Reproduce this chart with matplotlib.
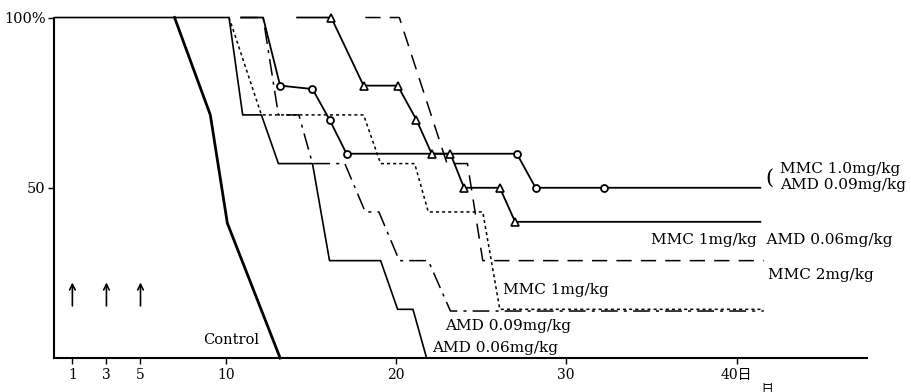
import matplotlib
matplotlib.use("Agg")
import matplotlib.pyplot as plt

plt.rcParams['font.family'] = ['DejaVu Serif', 'Noto Sans CJK JP']

# survival (%) against days after inoculation
control_day = [7.0, 9.1, 10.1, 13.2]
control_pct = [100, 71.4, 39.6, 0]

amd006_day = [0, 10.2, 11.0, 12.1, 13.1, 15.1, 16.1, 19.1, 20.1, 21.0, 21.8]
amd006_pct = [100, 100, 71.4, 71.4, 57.1, 57.1, 28.6, 28.6, 14.3, 14.3, 0]

mmc1_day = [10.2, 12.1, 18.1, 19.1, 21.1, 21.9, 25.1, 26.1, 41.6]
mmc1_pct = [100, 71.4, 71.4, 57.1, 57.1, 42.9, 42.9, 14.3, 14.3]

amd009_day = [10.9, 12.2, 13.1, 14.3, 15.1, 17.0, 18.2, 19.0, 20.2, 21.9, 23.2, 41.6]
amd009_pct = [100, 100, 71.4, 71.4, 57.1, 57.1, 42.9, 42.9, 28.6, 28.6, 13.8, 13.8]

mmc2_day = [18.2, 20.2, 23.0, 24.2, 25.1, 41.6]
mmc2_pct = [100, 100, 57.1, 57.1, 28.6, 28.6]

# MMC 1.0mg/kg + AMD 0.09mg/kg
combo_a_day = [10.9, 12.2, 13.2, 15.1, 16.1, 17.1, 27.1, 28.2, 32.2, 41.4]
combo_a_pct = [100, 100, 80, 79, 70, 60, 60, 50, 50, 50]

# MMC 1mg/kg + AMD 0.06mg/kg
combo_b_day = [14.2, 16.2, 18.1, 20.1, 21.2, 22.1, 23.2, 24.0, 26.1, 27.0, 41.4]
combo_b_pct = [100, 100, 80, 80, 70, 60, 60, 50, 50, 40, 40]

dose_days = [1, 3, 5]
x_ticks = [1, 3, 5, 10, 20, 30, 40]
x_labels = ['1', '3', '5', '10', '20', '30', '40日']

fig = plt.figure(figsize=(9.12, 3.92), dpi=100)
ax = fig.add_axes([0.0592, 0.0867, 0.8914, 0.8686])

lw = 1.1
ax.plot(mmc1_day, mmc1_pct, color='black', lw=lw, dashes=(2, 2), clip_on=False)
ax.plot(amd006_day, amd006_pct, color='black', lw=1.2, clip_on=False)
ax.plot(control_day, control_pct, color='black', lw=2.0, clip_on=False)
ax.plot(amd009_day, amd009_pct, color='black', lw=lw, dashes=(11, 4, 2, 4),
        clip_on=False)
ax.plot(mmc2_day, mmc2_pct, color='black', lw=lw, dashes=(10, 6), clip_on=False)
ax.plot(combo_a_day, combo_a_pct, color='black', lw=1.3, marker='o',
        markersize=5, markerfacecolor='white', markeredgewidth=1.3,
        markevery=list(range(2, 9)), clip_on=False)
ax.plot(combo_b_day, combo_b_pct, color='black', lw=1.3, marker='^',
        markersize=5.5, markerfacecolor='white', markeredgewidth=1.2,
        markevery=list(range(1, 10)), clip_on=False)

# dosing days
for d in dose_days:
    ax.annotate('', xy=(d, 23), xytext=(d, 14.5),
                arrowprops=dict(arrowstyle='->', color='black', lw=1.2))

fs = 11
ax.text(8.65, 5.3, 'Control', fontsize=10.5, va='center')
ax.text(22.1, 2.8, 'AMD 0.06mg/kg', fontsize=fs, va='center')
ax.text(22.9, 9.4, 'AMD 0.09mg/kg', fontsize=fs, va='center')
ax.text(26.3, 20.1, 'MMC 1mg/kg', fontsize=fs, va='center')
ax.text(41.85, 24.4, 'MMC 2mg/kg', fontsize=fs, va='center')
ax.text(35.0, 34.7, 'MMC 1mg/kg  AMD 0.06mg/kg', fontsize=fs, va='center')
ax.text(41.7, 52.8, '(', fontsize=15, va='center')
ax.text(42.55, 55.6, 'MMC 1.0mg/kg', fontsize=fs, va='center')
ax.text(42.55, 50.8, 'AMD 0.09mg/kg', fontsize=fs, va='center')
ax.text(41.6, -8.0, '日', fontsize=9, va='center', ha='center',
        rotation=180, clip_on=False)

ax.set_xlim(-0.08, 47.66)
ax.set_ylim(0, 100)
ax.set_xticks(x_ticks)
ax.set_xticklabels(x_labels, fontsize=10)
ax.set_yticks([50, 100])
ax.set_yticklabels(['50', '100%'], fontsize=10.5)
ax.tick_params(axis='x', length=4, width=1, pad=3)
ax.tick_params(axis='y', length=4, width=1, pad=2)
ax.spines['top'].set_visible(False)
ax.spines['right'].set_visible(False)
ax.spines['left'].set_linewidth(1.5)
ax.spines['bottom'].set_linewidth(1.5)

fig.savefig('out.png', dpi=100)
